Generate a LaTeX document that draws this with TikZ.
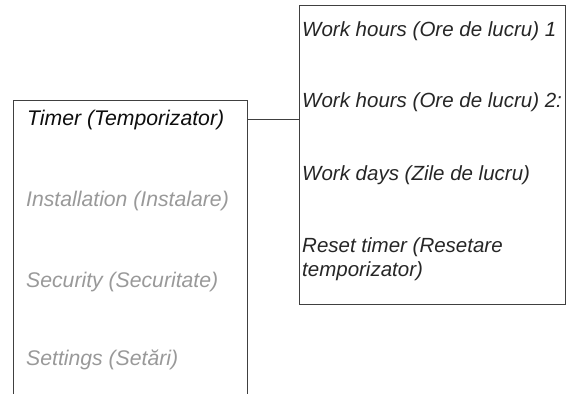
\documentclass[tikz,border=0pt]{standalone}
\usepackage{fontspec}
\setmainfont{Liberation Sans}
\begin{document}
\begin{tikzpicture}[x=1pt,y=-1pt,
  boxline/.style={draw=black!75, line width=0.9pt},
  itemtxt/.style={anchor=base west, inner sep=0pt, font=\fontsize{20.5}{24}\selectfont\itshape, text=black!85},
  lefttxt/.style={itemtxt, font=\fontsize{21.2}{24}\selectfont\itshape},
  graytxt/.style={lefttxt, text=black!40},
  activetxt/.style={lefttxt, text=black!95}]
\useasboundingbox (0,0) rectangle (566,394);
% boxes
\node[boxline, rectangle, minimum width=266pt, minimum height=299pt, inner sep=0pt, anchor=north west] (rbox) at (299,5) {};
\node[rectangle, minimum width=234pt, minimum height=300pt, inner sep=0pt, anchor=north west] (lbox) at (13,100) {};
\draw[boxline] (lbox.south west) -- (lbox.north west) -- (lbox.north east) -- (lbox.south east);
% left items
\node[activetxt] (timer) at (27,125) {Timer (Temporizator)};
\node[graytxt] (inst) at (26,206) {Installation (Instalare)};
\node[graytxt] (sec) at (26,287) {Security (Securitate)};
\node[graytxt] (set) at (26,365) {Settings (Setări)};
% right items
\node[itemtxt] (wh1) at (302,36) {Work hours (Ore de lucru) 1};
\node[itemtxt] (wh2) at (302,107) {Work hours (Ore de lucru) 2:};
\node[itemtxt] (wd) at (302,180) {Work days (Zile de lucru)};
\node[itemtxt] (rt) at (302,252) {Reset timer (Resetare};
\node[itemtxt] (rt2) at (302,276) {temporizator)};
% connector
\coordinate (cy) at (0,119);
\draw[boxline] (lbox.east |- cy) -- (rbox.west |- cy);
\end{tikzpicture}
\end{document}
